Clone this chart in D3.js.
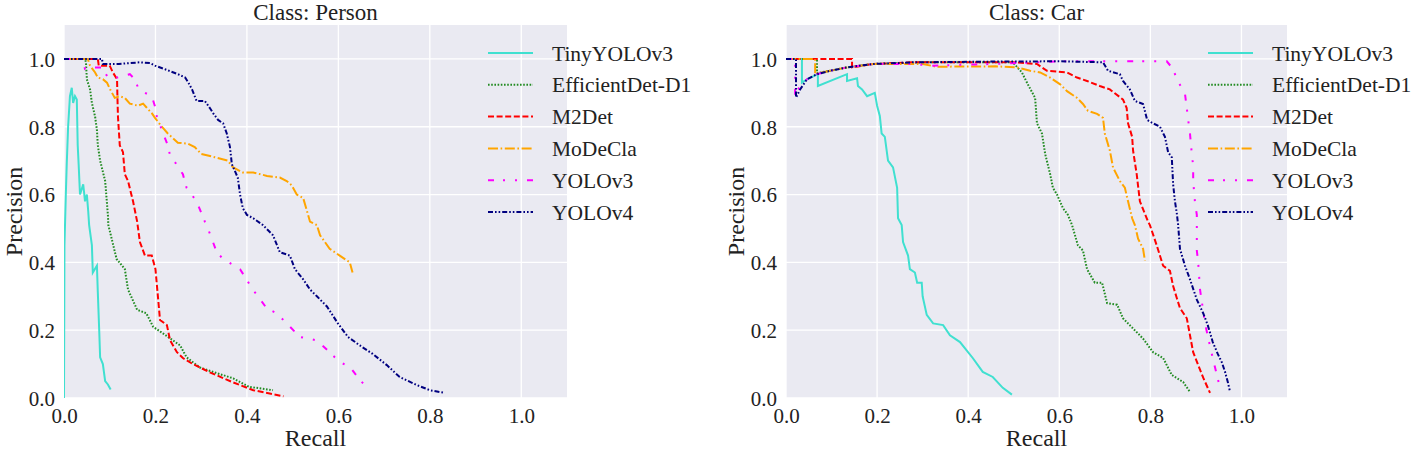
<!DOCTYPE html>
<html>
<head>
<meta charset="utf-8">
<script src="https://cdn.jsdelivr.net/npm/d3@7"></script>
<style>
  body { margin: 0; background: #fff; }
  svg { display: block; font-family: "Liberation Serif", "Times New Roman", serif; }
</style>
</head>
<body>
<svg id="chart" width="1415" height="450"></svg>
<script>
'use strict'

// models, in legend order
const models = ['TinyYOLOv3', 'EfficientDet-D1', 'M2Det', 'MoDeCla', 'YOLOv3', 'YOLOv4']
const classes = ['Person', 'Car']
const ticks = [0.0, 0.2, 0.4, 0.6, 0.8, 1.0]

// [recall, precision] pairs -- class Person
const personTiny = [[0,0],[0.001,0.45],[0.004,0.6],[0.006,0.69],[0.009,0.8],[0.013,0.89],[0.017,0.915],[0.02,0.87],[0.024,0.89],[0.028,0.88],[0.03,0.745],[0.032,0.69],[0.035,0.6],[0.042,0.63],[0.046,0.58],[0.05,0.6],[0.053,0.55],[0.055,0.51],[0.061,0.45],[0.063,0.37],[0.072,0.39],[0.074,0.31],[0.077,0.2],[0.079,0.12],[0.085,0.1],[0.09,0.05],[0.096,0.04],[0.102,0.025]]
const personEff = [[0,1],[0.046,1],[0.048,0.99],[0.05,0.94],[0.057,0.91],[0.061,0.87],[0.068,0.83],[0.072,0.79],[0.074,0.745],[0.079,0.7],[0.09,0.64],[0.096,0.54],[0.097,0.51],[0.115,0.41],[0.133,0.38],[0.14,0.32],[0.16,0.26],[0.18,0.25],[0.195,0.21],[0.217,0.19],[0.254,0.155],[0.268,0.12],[0.297,0.09],[0.33,0.075],[0.37,0.058],[0.405,0.033],[0.457,0.023]]
const personM2 = [[0,1],[0.074,1],[0.076,0.98],[0.1,0.98],[0.107,0.96],[0.116,0.94],[0.117,0.88],[0.118,0.83],[0.122,0.745],[0.129,0.725],[0.133,0.66],[0.14,0.64],[0.151,0.58],[0.16,0.52],[0.166,0.46],[0.177,0.42],[0.192,0.42],[0.2,0.38],[0.206,0.29],[0.21,0.23],[0.225,0.215],[0.232,0.17],[0.247,0.135],[0.26,0.118],[0.282,0.1],[0.32,0.075],[0.37,0.046],[0.414,0.023],[0.48,0.005]]
const personMoDeCla = [[0,1],[0.052,1],[0.057,0.98],[0.068,0.96],[0.074,0.945],[0.085,0.94],[0.094,0.93],[0.101,0.91],[0.111,0.885],[0.122,0.89],[0.133,0.885],[0.144,0.868],[0.162,0.862],[0.173,0.868],[0.181,0.856],[0.192,0.84],[0.199,0.826],[0.214,0.8],[0.227,0.78],[0.249,0.753],[0.271,0.75],[0.286,0.74],[0.3,0.72],[0.33,0.71],[0.358,0.7],[0.37,0.68],[0.391,0.665],[0.414,0.665],[0.444,0.655],[0.472,0.65],[0.487,0.64],[0.498,0.627],[0.509,0.6],[0.523,0.59],[0.531,0.553],[0.538,0.52],[0.553,0.51],[0.56,0.48],[0.581,0.44],[0.603,0.42],[0.625,0.4],[0.631,0.37]]
const personV3 = [[0,1],[0.04,1],[0.046,0.97],[0.063,0.975],[0.083,0.975],[0.096,0.945],[0.116,0.945],[0.144,0.955],[0.155,0.94],[0.162,0.915],[0.177,0.9],[0.192,0.89],[0.199,0.86],[0.203,0.83],[0.214,0.79],[0.227,0.745],[0.232,0.715],[0.243,0.695],[0.26,0.66],[0.268,0.62],[0.29,0.58],[0.308,0.52],[0.312,0.51],[0.334,0.43],[0.348,0.41],[0.385,0.38],[0.413,0.32],[0.443,0.265],[0.465,0.25],[0.487,0.22],[0.516,0.18],[0.553,0.17],[0.577,0.14],[0.603,0.106],[0.625,0.092],[0.647,0.053],[0.664,0.03]]
const personV4 = [[0,1],[0.083,1],[0.085,0.985],[0.12,0.985],[0.166,0.99],[0.188,0.988],[0.199,0.98],[0.22,0.97],[0.249,0.955],[0.265,0.945],[0.272,0.93],[0.28,0.91],[0.29,0.876],[0.308,0.876],[0.319,0.855],[0.326,0.84],[0.337,0.82],[0.348,0.81],[0.356,0.78],[0.363,0.74],[0.367,0.69],[0.38,0.65],[0.385,0.6],[0.391,0.56],[0.4,0.54],[0.414,0.53],[0.435,0.51],[0.457,0.48],[0.472,0.43],[0.494,0.42],[0.505,0.38],[0.523,0.35],[0.538,0.32],[0.553,0.3],[0.575,0.27],[0.599,0.22],[0.621,0.18],[0.647,0.155],[0.675,0.13],[0.706,0.097],[0.734,0.062],[0.772,0.038],[0.8,0.023],[0.833,0.015]]

// class Car
const carTiny = [[0,1],[0.035,1],[0.035,0.93],[0.046,0.94],[0.07,0.955],[0.07,0.92],[0.134,0.955],[0.134,0.935],[0.156,0.943],[0.158,0.92],[0.167,0.91],[0.178,0.89],[0.195,0.9],[0.2,0.862],[0.206,0.832],[0.21,0.78],[0.217,0.77],[0.224,0.7],[0.235,0.68],[0.244,0.62],[0.246,0.53],[0.254,0.51],[0.257,0.46],[0.268,0.42],[0.272,0.38],[0.283,0.37],[0.288,0.34],[0.298,0.34],[0.3,0.3],[0.309,0.245],[0.323,0.22],[0.345,0.215],[0.36,0.185],[0.382,0.165],[0.397,0.14],[0.41,0.118],[0.432,0.077],[0.454,0.062],[0.476,0.03],[0.496,0.01]]
const carEff = [[0,1],[0.068,1],[0.068,0.958],[0.097,0.965],[0.134,0.975],[0.191,0.985],[0.3,0.99],[0.498,0.99],[0.518,0.96],[0.531,0.925],[0.547,0.885],[0.551,0.81],[0.562,0.78],[0.569,0.72],[0.58,0.66],[0.586,0.62],[0.595,0.6],[0.608,0.56],[0.619,0.54],[0.628,0.51],[0.641,0.45],[0.652,0.435],[0.661,0.38],[0.678,0.34],[0.694,0.34],[0.705,0.28],[0.727,0.275],[0.74,0.235],[0.762,0.205],[0.784,0.175],[0.806,0.135],[0.828,0.118],[0.847,0.068],[0.872,0.047],[0.887,0.018]]
const carM2 = [[0,1],[0.145,1],[0.145,0.975],[0.191,0.985],[0.28,0.99],[0.5,0.99],[0.551,0.985],[0.573,0.965],[0.617,0.96],[0.639,0.945],[0.661,0.935],[0.689,0.92],[0.711,0.91],[0.74,0.88],[0.748,0.855],[0.751,0.81],[0.76,0.77],[0.762,0.73],[0.77,0.66],[0.777,0.58],[0.795,0.52],[0.799,0.51],[0.814,0.45],[0.828,0.39],[0.843,0.375],[0.85,0.33],[0.858,0.295],[0.865,0.265],[0.88,0.235],[0.887,0.185],[0.894,0.135],[0.905,0.097],[0.916,0.06],[0.931,0.015]]
const carMoDeCla = [[0,1],[0.064,1],[0.064,0.955],[0.097,0.965],[0.134,0.975],[0.191,0.985],[0.3,0.985],[0.33,0.977],[0.46,0.978],[0.507,0.975],[0.536,0.965],[0.558,0.96],[0.58,0.945],[0.602,0.925],[0.617,0.905],[0.639,0.885],[0.652,0.867],[0.663,0.847],[0.683,0.838],[0.696,0.826],[0.7,0.78],[0.711,0.73],[0.718,0.68],[0.733,0.64],[0.744,0.62],[0.751,0.58],[0.76,0.53],[0.766,0.51],[0.773,0.47],[0.784,0.44],[0.788,0.405]]
const carV3 = [[0,1],[0.02,1],[0.02,0.89],[0.026,0.91],[0.046,0.94],[0.068,0.955],[0.097,0.965],[0.134,0.975],[0.191,0.985],[0.28,0.985],[0.32,0.98],[0.45,0.985],[0.55,0.99],[0.6,0.993],[0.836,0.993],[0.85,0.97],[0.858,0.94],[0.876,0.897],[0.88,0.855],[0.883,0.82],[0.887,0.78],[0.891,0.72],[0.894,0.685],[0.894,0.64],[0.898,0.577],[0.902,0.54],[0.902,0.435],[0.905,0.4],[0.909,0.32],[0.92,0.22],[0.929,0.165],[0.937,0.118],[0.946,0.068],[0.953,0.03]]
const carV4 = [[0,1],[0.022,1],[0.022,0.886],[0.031,0.91],[0.046,0.94],[0.068,0.955],[0.097,0.965],[0.134,0.975],[0.191,0.985],[0.28,0.99],[0.45,0.992],[0.6,0.993],[0.696,0.99],[0.707,0.965],[0.733,0.955],[0.74,0.935],[0.755,0.91],[0.766,0.876],[0.784,0.867],[0.793,0.82],[0.806,0.81],[0.821,0.8],[0.832,0.77],[0.839,0.725],[0.847,0.71],[0.85,0.63],[0.854,0.58],[0.858,0.545],[0.861,0.51],[0.865,0.44],[0.876,0.39],[0.887,0.35],[0.902,0.29],[0.916,0.25],[0.926,0.215],[0.937,0.165],[0.948,0.13],[0.957,0.105],[0.964,0.077],[0.97,0.047],[0.975,0.018]]

const curves = {
  Person: [personTiny, personEff, personM2, personMoDeCla, personV3, personV4],
  Car: [carTiny, carEff, carM2, carMoDeCla, carV3, carV4]
}

// line styles (matplotlib-ish)
const colors = ['#40e0d0', '#228b22', '#ff0000', '#ffa500', '#ff00ff', '#000080']
const dashes = [null, '1.6,1.6', '6,2.6', '10,2.6,1.6,2.6', '6,9,2,10,2,10', '5,2,1.6,2,1.6,2']

const svg = d3.select('#chart')
const panels = [
  {x: 64, y: 25, w: 503, h: 373},
  {x: 786, y: 25, w: 501, h: 373}
]

classes.forEach((cls, k) => {
  const p = panels[k]
  const x = d3.scaleLinear().domain([0, 1.1]).range([0, p.w])
  const y = d3.scaleLinear().domain([0, 1.1]).range([p.h, 0])

  const g = svg.append('g').attr('transform', 'translate(' + p.x + ',' + p.y + ')')

  g.append('rect')
    .attr('width', p.w).attr('height', p.h)
    .attr('fill', '#eaeaf2')

  // grid
  g.selectAll('.vgrid').data(ticks).enter().append('line')
    .attr('x1', d => x(d)).attr('x2', d => x(d))
    .attr('y1', 0).attr('y2', p.h)
    .attr('stroke', '#fff').attr('stroke-width', 1.3)
  g.selectAll('.hgrid').data(ticks).enter().append('line')
    .attr('y1', d => y(d)).attr('y2', d => y(d))
    .attr('x1', 0).attr('x2', p.w)
    .attr('stroke', '#fff').attr('stroke-width', 1.3)

  // tick labels (no tick marks in darkgrid)
  const xAxis = g.append('g').attr('transform', 'translate(0,' + p.h + ')')
    .call(d3.axisBottom(x).tickValues(ticks).tickFormat(d3.format('.1f')).tickSize(0).tickPadding(0))
  xAxis.select('.domain').remove()
  xAxis.selectAll('text')
    .attr('y', 25).attr('dy', null)
    .style('font-family', 'Liberation Serif').style('font-size', '21px').attr('fill', '#222')

  const yAxis = g.append('g')
    .call(d3.axisLeft(y).tickValues(ticks).tickFormat(d3.format('.1f')).tickSize(0).tickPadding(9))
  yAxis.select('.domain').remove()
  yAxis.selectAll('text')
    .attr('dy', '0.35em')
    .style('font-family', 'Liberation Serif').style('font-size', '21px').attr('fill', '#222')

  // curves
  const line = d3.line().x(d => x(d[0])).y(d => y(d[1]))
  g.append('clipPath').attr('id', 'clip' + k)
    .append('rect').attr('width', p.w).attr('height', p.h)
  g.append('g').attr('clip-path', 'url(#clip' + k + ')')
    .selectAll('path').data(curves[cls]).enter().append('path')
    .attr('d', line)
    .attr('fill', 'none')
    .attr('stroke', (d, i) => colors[i])
    .attr('stroke-width', 2)
    .attr('stroke-dasharray', (d, i) => dashes[i])

  // title + axis labels
  g.append('text')
    .attr('x', p.w / 2).attr('y', -5)
    .attr('text-anchor', 'middle')
    .style('font-size', '23px').attr('fill', '#222')
    .text('Class: ' + cls)
  g.append('text')
    .attr('x', p.w / 2).attr('y', p.h + 48)
    .attr('text-anchor', 'middle')
    .style('font-size', '24px').attr('fill', '#222')
    .text('Recall')
  g.append('text')
    .attr('transform', 'translate(-42,' + (p.h / 2) + ') rotate(-90)')
    .attr('text-anchor', 'middle')
    .style('font-size', '24px').attr('fill', '#222')
    .text('Precision')

  // legend, no frame
  const legend = g.append('g').attr('transform', 'translate(' + (p.w - 79) + ',28)')
    .selectAll('g').data(models).enter().append('g')
    .attr('transform', (d, i) => 'translate(0,' + i * 31.8 + ')')
  legend.append('line')
    .attr('x1', 0).attr('x2', 45)
    .attr('stroke', (d, i) => colors[i])
    .attr('stroke-width', 2)
    .attr('stroke-dasharray', (d, i) => dashes[i])
  legend.append('text')
    .attr('x', 64).attr('dy', '0.35em')
    .style('font-size', '21.5px').attr('fill', '#222')
    .text(d => d)
})
</script>
</body>
</html>
